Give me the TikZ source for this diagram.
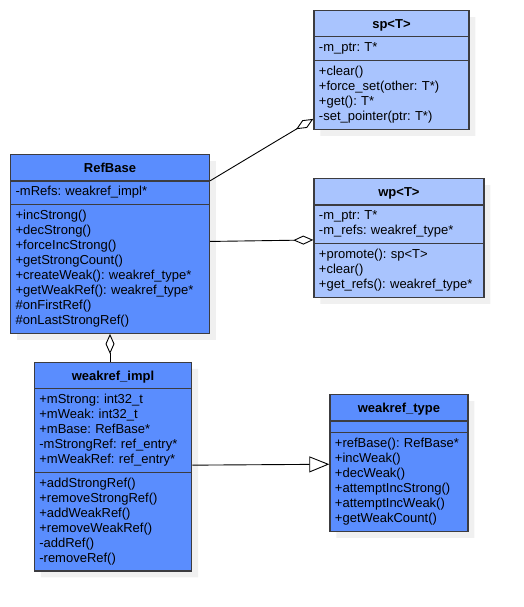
\documentclass[tikz,border=0pt]{standalone}
\usepackage{fontspec}
\setmainfont{Liberation Sans}
\usepackage{color}
\definecolor{myblue}{RGB}{90,141,254}
\definecolor{mylightblue}{RGB}{169,196,254}
\definecolor{mygray}{RGB}{60,60,64}
\definecolor{myshadow}{RGB}{240,240,240}
\usepackage{tikz}
\usetikzlibrary{shapes.multipart,arrows.meta,shadows,positioning,calc}

\newcommand{\mytitle}[1]{\hfill\rule[-4pt]{0pt}{17.5pt}\textbf{#1}\hfill\null}

\begin{document}
\begin{tikzpicture}[
  x=1pt, y=-1pt,
  myclass/.style={
    draw=mygray,
    line width=1.3pt,
    rectangle split,
    rectangle split parts=3,
    rectangle split part align=left,
    align=left,
    anchor=north west,
    inner xsep=5pt,
    inner ysep=3.7pt,
    font=\fontsize{13}{15}\selectfont\frenchspacing,
    drop shadow={shadow xshift=6.5pt, shadow yshift=-6.5pt, fill=myshadow, draw=none, opacity=1}
    },
  mydark/.style={myclass, fill=myblue},
  mylight/.style={myclass, fill=mylightblue},
  myagg/.style={line width=0.9pt, -{Diamond[fill=white, length=20pt, width=9pt]}},
  myinh/.style={line width=0.9pt, -{Triangle[fill=white, length=20pt, width=16pt]}}
]
\useasboundingbox (0,0) rectangle (523,607);

\node [mylight, text width=145pt] (sp) at (313.3,10)
  {\mytitle{sp<T>}
   \nodepart{two}\strut-m\_ptr: T*
   \nodepart{three}\strut+clear()\\+force\_set(other: T*)\\+get(): T*\\-set\_pointer(ptr: T*)\strut};

\node [mydark, text width=188.7pt] (RefBase) at (10,154)
  {\mytitle{RefBase}
   \nodepart{two}\strut-mRefs: weakref\_impl*
   \nodepart{three}\strut+incStrong()\\+decStrong()\\+forceIncStrong()\\+getStrongCount()\\
     +createWeak(): weakref\_type*\\+getWeakRef(): weakref\_type*\\\#onFirstRef()\\
     \#onLastStrongRef()\strut};

\node [mylight, text width=160pt] (wp) at (313.3,178)
  {\mytitle{wp<T>}
   \nodepart{two}\strut-m\_ptr: T*\\-m\_refs: weakref\_type*\strut
   \nodepart{three}\strut+promote(): sp<T>\\+clear()\\+get\_refs(): weakref\_type*\strut};

\node [mydark, text width=147.3pt] (weakref_impl) at (33.7,361.7)
  {\mytitle{weakref\_impl}
   \nodepart{two}\strut+mStrong: int32\_t\\+mWeak: int32\_t\\+mBase: RefBase*\\
     -mStrongRef: ref\_entry*\\+mWeakRef: ref\_entry*\strut
   \nodepart{three}\strut+addStrongRef()\\+removeStrongRef()\\+addWeakRef()\\
     +removeWeakRef()\\-addRef()\\-removeRef()\strut};

\node [mydark, text width=128pt] (weakref_type) at (329.3,394)
  {\mytitle{weakref\_type}
   \nodepart{two}\rule{0pt}{3pt}
   \nodepart{three}\strut+refBase(): RefBase*\\+incWeak()\\+decWeak()\\
     +attemptIncStrong()\\+attemptIncWeak()\\+getWeakCount()\strut};

\draw [myagg] (RefBase.text split east) -- ([yshift=11pt]sp.south west);
\draw [myagg] ([yshift=2.5pt]RefBase.east) -- ([yshift=-2pt]wp.west);
\draw [myagg] (RefBase.south |- weakref_impl.north) -- (RefBase.south);
\draw [myinh] ([yshift=1.5pt]weakref_impl.east) -- ([yshift=-1.3pt]weakref_type.west);

\end{tikzpicture}
\end{document}
